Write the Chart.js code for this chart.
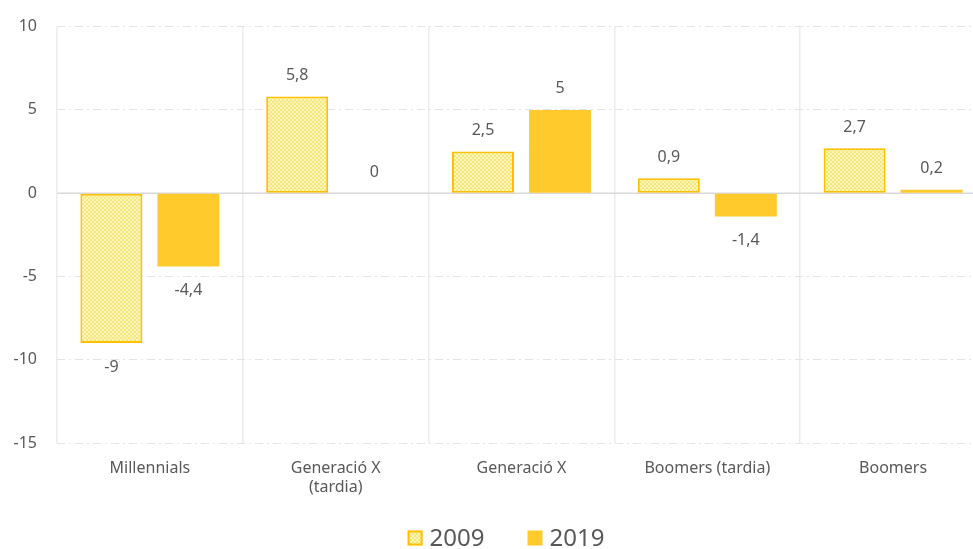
<!DOCTYPE html>
<html>
<head>
<meta charset="utf-8">
<script src="https://cdn.jsdelivr.net/npm/chart.js@4/dist/chart.umd.min.js"></script>
<style>
  html, body { margin: 0; padding: 0; background: #fff; overflow: hidden; }
  #wrap { position: relative; width: 1013px; height: 552px; margin-top: -3px; }
</style>
</head>
<body>
<div id="wrap"><canvas id="chart" width="1013" height="552"></canvas></div>
<script>
// dades
const categories = ['Millennials', ['Generació X', '(tardia)'], 'Generació X', 'Boomers (tardia)', 'Boomers'];
const values2009 = [-9, 5.8, 2.5, 0.9, 2.7];
const values2019 = [-4.4, 0, 5, -1.4, 0.2];
const yTicks = { min: -15, max: 10, step: 5 };

const textColor = '#595959';
const fontFamily = "'Noto Sans', sans-serif";

// patró quadriculat per a 2009
function makeHatch() {
  const c = document.createElement('canvas');
  c.width = 4; c.height = 4;
  const g = c.getContext('2d');
  g.fillStyle = '#fbf4bd';
  g.fillRect(0, 0, 4, 4);
  g.fillStyle = '#f4e87a';
  g.fillRect(0, 0, 2, 2);
  g.fillRect(2, 2, 2, 2);
  return g.createPattern(c, 'repeat');
}
const hatch = makeHatch();

const fmt = v => String(v).replace('.', ',');

// etiquetes de valor, línia del zero i llegenda
const labelPlugin = {
  id: 'valueLabels',
  beforeDatasetsDraw(chart) {
    const { ctx, chartArea, scales } = chart;
    const y0 = scales.y.getPixelForValue(0);
    ctx.save();
    ctx.strokeStyle = '#d9d9d9';
    ctx.lineWidth = 1.5;
    ctx.beginPath();
    ctx.moveTo(chartArea.left, y0);
    ctx.lineTo(chartArea.right, y0);
    ctx.stroke();
    ctx.restore();
  },
  afterDatasetsDraw(chart) {
    const { ctx } = chart;
    ctx.save();
    ctx.font = '16px ' + fontFamily;
    ctx.fillStyle = textColor;
    ctx.textAlign = 'center';
    ctx.textBaseline = 'middle';
    chart.data.datasets.forEach((ds, i) => {
      chart.getDatasetMeta(i).data.forEach((bar, j) => {
        const v = ds.data[j];
        const y = v >= 0 ? bar.y - 21 : bar.y + 24;
        ctx.fillText(fmt(v), bar.x, y);
      });
    });
    ctx.restore();
  },
  afterDraw(chart) {
    const { ctx } = chart;
    const ds = chart.data.datasets;
    const box = 15, gapText = 7, gapItem = 43, cy = 541;
    ctx.save();
    ctx.font = '24px ' + fontFamily;
    const widths = ds.map(d => box + gapText + ctx.measureText(d.label).width);
    const total = widths.reduce((a, b) => a + b, 0) + gapItem * (ds.length - 1);
    let x = 506 - total / 2;
    ds.forEach((d, i) => {
      ctx.fillStyle = d.backgroundColor;
      ctx.fillRect(x, cy - box / 2, box, box);
      if (d.borderWidth) {
        ctx.strokeStyle = d.borderColor;
        ctx.lineWidth = 2;
        ctx.strokeRect(x + 1, cy - box / 2 + 1, box - 2, box - 2);
      }
      ctx.fillStyle = textColor;
      ctx.textAlign = 'left';
      ctx.textBaseline = 'middle';
      ctx.fillText(d.label, x + box + gapText, cy + 1);
      x += widths[i] + gapItem;
    });
    ctx.restore();
  }
};

new Chart(document.getElementById('chart'), {
  type: 'bar',
  data: {
    labels: categories,
    datasets: [
      {
        label: '2009',
        data: values2009,
        backgroundColor: hatch,
        borderColor: '#ffc000',
        borderWidth: 2,
        borderSkipped: false,
        categoryPercentage: 0.829,
        barPercentage: 0.805
      },
      {
        label: '2019',
        data: values2019,
        backgroundColor: '#ffca2c',
        borderColor: '#ffca2c',
        borderWidth: 0,
        categoryPercentage: 0.829,
        barPercentage: 0.805
      }
    ]
  },
  options: {
    responsive: false,
    animation: false,
    devicePixelRatio: 1,
    layout: { padding: { top: 20, right: 27, bottom: 36, left: 0 } },
    plugins: {
      tooltip: { enabled: false },
      legend: { display: false }
    },
    scales: {
      x: {
        grid: { color: '#ececec', lineWidth: 1.5, drawTicks: false, offset: true },
        border: { display: false },
        ticks: {
          color: textColor,
          font: { size: 16, family: fontFamily },
          padding: 16,
          maxRotation: 0,
          autoSkip: false
        },
        afterFit(scale) { scale.height = 70; }
      },
      y: {
        min: yTicks.min,
        max: yTicks.max,
        ticks: {
          stepSize: yTicks.step,
          color: textColor,
          font: { size: 16, family: fontFamily },
          padding: 20
        },
        grid: { color: '#e4e4e4', lineWidth: 1, drawTicks: false },
        border: { display: false, dash: [8, 4, 2, 4] },
        afterFit(scale) { scale.width = 57; }
      }
    }
  },
  plugins: [labelPlugin]
});
</script>
</body>
</html>
